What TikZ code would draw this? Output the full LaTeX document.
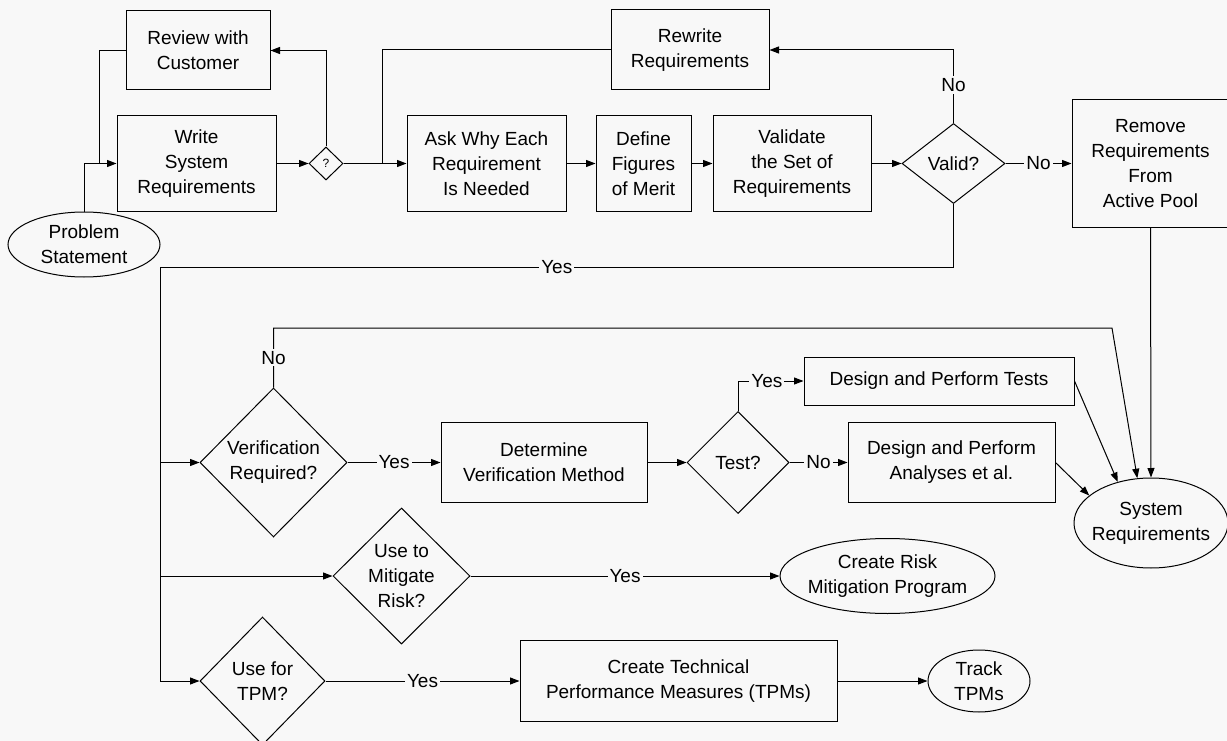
\documentclass[tikz,border=0pt]{standalone}
\usepackage{fontspec}
\setmainfont{Liberation Sans}
\usetikzlibrary{shapes.geometric,arrows.meta,calc}
\definecolor{bg}{RGB}{248,248,248}
\begin{document}
\begin{tikzpicture}[x=1pt,y=-1pt, line width=1pt,
  font=\fontsize{19}{25}\selectfont,
  box/.style={draw, rectangle, inner sep=0pt, align=center},
  ell/.style={draw, ellipse, inner sep=-15pt, align=center},
  dia/.style={draw, diamond, inner sep=-20pt, align=center},
  arr/.style={-{Triangle[length=9.5pt,width=7pt]}},
  lab/.style={fill=bg, inner sep=2pt}]
\useasboundingbox (0,0) rectangle (1227,741);
\fill[bg] (0,0) rectangle (1227,741);
\clip (0,0) rectangle (1227,741);

% top row
\node[box, minimum width=144pt, minimum height=79pt] (review) at (198,50.5) {Review with\\Customer};
\node[box, minimum width=159pt, minimum height=95pt] (write) at (196.5,163.5) {Write\\System\\Requirements};
\node[ell, minimum width=152pt, minimum height=65pt] (ps) at (84,244.5) {Problem\\Statement};
\node[draw, diamond, inner sep=0pt, minimum width=34pt, minimum height=33pt, font=\fontsize{12}{13}\selectfont] (q) at (326,163.5) {?};
\node[box, minimum width=158pt, minimum height=80pt] (rewrite) at (690,50) {Rewrite\\Requirements};
\node[box, minimum width=159pt, minimum height=95pt] (ask) at (486.5,163.5) {Ask Why Each\\Requirement\\Is Needed};
\node[box, minimum width=95pt, minimum height=95pt] (define) at (643.5,163.5) {Define\\Figures\\of Merit};
\node[box, minimum width=158pt, minimum height=95pt] (validate) at (792,163.5) {Validate\\the Set of\\Requirements};
\node[dia, minimum width=103pt, minimum height=80pt] (valid) at (953.5,163.5) {Valid?};
\node[box, minimum width=157pt, minimum height=127pt] (remove) at (1150.5,163.5) {Remove\\Requirements\\From\\Active Pool};

% middle
\node[dia, minimum width=147pt, minimum height=149pt] (verif) at (273.5,462.5) {Verification\\Required?};
\node[box, minimum width=206pt, minimum height=80pt] (determine) at (544,462.5) {Determine\\Verification Method};
\node[dia, minimum width=102pt, minimum height=102pt] (test) at (738,462.5) {Test?};
\node[box, minimum width=270pt, minimum height=48pt] (tests) at (939,381) {Design and Perform Tests};
\node[box, minimum width=207pt, minimum height=80pt] (analyses) at (951.5,462.5) {Design and Perform\\Analyses et al.};
\node[ell, minimum width=154pt, minimum height=90pt] (sysreq) at (1151,523) {System\\Requirements};

% bottom
\node[dia, minimum width=137pt, minimum height=136pt] (mitig) at (401.5,576) {Use to\\Mitigate\\Risk?};
\node[ell, minimum width=215pt, minimum height=75pt] (risk) at (887.5,576) {Create Risk\\Mitigation Program};
\node[dia, minimum width=125pt, minimum height=128pt] (tpm) at (262.5,681) {Use for\\TPM?};
\node[box, minimum width=317pt, minimum height=81pt] (ctpm) at (678.5,681) {Create Technical\\Performance Measures (TPMs)};
\node[ell, minimum width=102pt, minimum height=62pt] (track) at (979,681) {Track\\TPMs};

% helper coordinates
\coordinate (j1) at (99,163.5);
\coordinate (j2) at (382,163.5);
\coordinate (lc) at (160,267);
\coordinate (nc) at (1112,328);

% top connectors
\draw[arr] (ps.north) |- (write.west);
\draw (review.west) -| (j1);
\draw[arr] (write.east) -- (q.west);
\draw[arr] (q.north) |- (review.east);
\draw[arr] (q.east) -- (ask.west);
\draw (rewrite.west) -| (j2);
\draw[arr] (ask.east) -- (define.west);
\draw[arr] (define.east) -- (validate.west);
\draw[arr] (validate.east) -- (valid.west);
\draw[arr] (valid.north) |- node[lab, pos=0.26]{No} (rewrite.east);
\draw[arr] (valid.east) -- node[lab]{No} (remove.west);

% yes trunk
\draw[arr] (valid.south) |- node[lab, pos=0.75]{Yes} (lc) |- (tpm.west);
\draw[arr] (lc |- verif.west) -- (verif.west);
\draw[arr] (lc |- mitig.west) -- (mitig.west);

% verification
\draw[arr] (verif.east) -- node[lab]{Yes} (determine.west);
\draw[arr] (verif.north) |- node[lab, pos=0.25]{No} (nc) -- (sysreq.107);
\draw[arr] (determine.east) -- (test.west);
\draw[arr] (test.north) |- node[lab, pos=0.72]{Yes} (tests.west);
\draw[arr] (test.east) -- node[lab]{No} (analyses.west);
\draw[arr] (tests.east) -- (sysreq.129);
\draw[arr] (analyses.east) -- (sysreq.156);
\draw[arr] (remove.south) -- (sysreq.north);

% bottom connectors
\draw[arr] (mitig.east) -- node[lab]{Yes} (risk.west);
\draw[arr] (tpm.east) -- node[lab]{Yes} (ctpm.west);
\draw[arr] (ctpm.east) -- (track.west);
\end{tikzpicture}
\end{document}
